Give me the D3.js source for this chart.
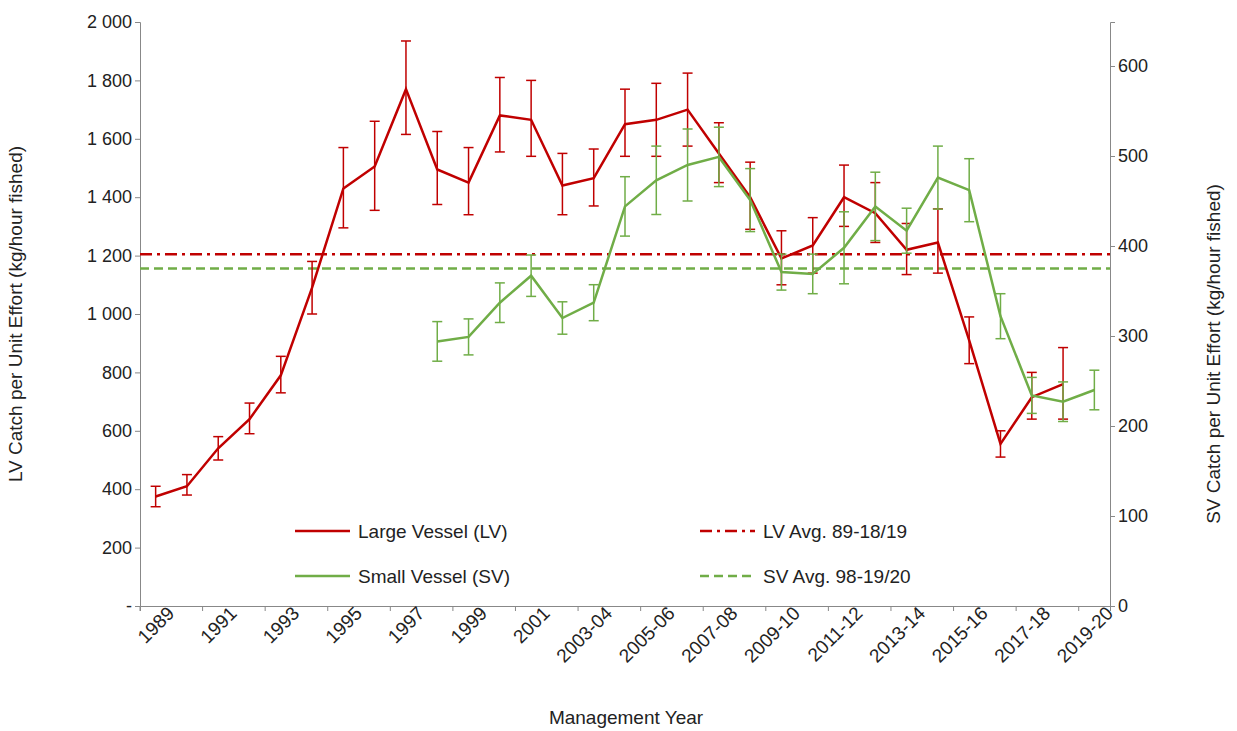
<!DOCTYPE html>
<html><head><meta charset="utf-8">
<script src="https://cdn.jsdelivr.net/npm/d3@7"></script>
<style>body{margin:0;background:#fff}text{font-family:"Liberation Sans",Arial,sans-serif}</style>
</head><body>
<svg id="chart" width="1237" height="731"></svg>
<script>
const categories = [];
for (let y = 1989; y <= 2001; y++) categories.push(String(y));
for (let y = 2002; y <= 2019; y++) categories.push(y + "-" + String(y + 1).slice(2));

const lvValues = [375,410,540,640,790,1090,1430,1505,1770,1495,1450,1680,1665,1440,1465,1650,1665,1700,1550,1400,1190,1235,1400,1345,1220,1245,910,555,715,760];
const lvLow  = [340,380,500,590,730,1000,1295,1355,1615,1375,1340,1555,1540,1340,1370,1540,1540,1575,1450,1290,1100,1140,1300,1245,1135,1140,830,510,640,640];
const lvHigh = [410,450,580,695,855,1180,1570,1660,1935,1625,1570,1810,1800,1550,1565,1770,1790,1825,1655,1520,1285,1330,1510,1450,1310,1360,990,600,800,885];
const svStart = 9;
const svValues = [294,299,337,367,320,337,444,473,490,499,451,371,369,398,444,417,476,462,322,234,227,240];
const svErr = [22,20,22,23,18,20,33,38,40,33,35,20,22,40,38,25,35,35,25,20,22,22];
const lvAvg = 1205, svAvg = 375;
const lvTicks = [0,200,400,600,800,1000,1200,1400,1600,1800,2000];
const svTicks = [0,100,200,300,400,500,600];

const red = "#C00000", green = "#70AD47";
const svg = d3.select("#chart");
const m = {left: 140, right: 1110, top: 22, bottom: 606};

const x = d3.scaleBand().domain(categories).range([m.left, m.right]);
const xc = d => x(d) + x.bandwidth() / 2;
const yL = d3.scaleLinear().domain([0, 2000]).range([m.bottom, m.top]);
const yR = d3.scaleLinear().domain([0, 2000 * 0.292 / 0.9]).range([m.bottom, m.top]);

const fmt = v => v === 0 ? "-" : d3.format(",")(v).replace(",", " ");

const gl = svg.append("g").attr("transform", `translate(${m.left},0)`)
  .call(d3.axisLeft(yL).tickValues(lvTicks).tickFormat(fmt).tickSize(5));
const gr = svg.append("g").attr("transform", `translate(${m.right},0)`)
  .call(d3.axisRight(yR).tickValues(svTicks).tickSize(5));
const gx = svg.append("g").attr("transform", `translate(0,${m.bottom})`)
  .call(d3.axisBottom(x).tickValues(categories.filter((c, i) => i % 2 === 0)).tickSize(5));
[gl, gr, gx].forEach(g => {
  g.selectAll("path,line").attr("stroke", "#888");
  g.selectAll("text").attr("font-size", 18).attr("fill", "#222");
});
gx.selectAll("line").attr("transform", `translate(${-x.bandwidth()/2},0)`);
gx.selectAll("text").attr("font-size", 19).attr("text-anchor", "end").attr("dx", "8").attr("dy", "12")
  .attr("transform", "rotate(-45)");

svg.append("text").attr("transform", `translate(22,${(m.top+m.bottom)/2}) rotate(-90)`)
  .attr("text-anchor", "middle").attr("font-size", 19).attr("fill", "#222")
  .text("LV Catch per Unit Effort (kg/hour fished)");
svg.append("text").attr("transform", `translate(1220,${(m.top+m.bottom)/2+40}) rotate(-90)`)
  .attr("text-anchor", "middle").attr("font-size", 19).attr("fill", "#222")
  .text("SV Catch per Unit Effort (kg/hour fished)");
svg.append("text").attr("x", 626).attr("y", 724).attr("text-anchor", "middle")
  .attr("font-size", 19).attr("fill", "#222").text("Management Year");

// averages
svg.append("line").attr("x1", m.left).attr("x2", m.right).attr("y1", yL(lvAvg)).attr("y2", yL(lvAvg))
  .attr("stroke", red).attr("stroke-width", 2.5).attr("stroke-dasharray", "12,5,3,5");
svg.append("line").attr("x1", m.left).attr("x2", m.right).attr("y1", yR(svAvg)).attr("y2", yR(svAvg))
  .attr("stroke", green).attr("stroke-width", 2.5).attr("stroke-dasharray", "9,5");

function errBars(idx, lo, hi, y, color) {
  const g = svg.append("g").attr("stroke", color).attr("stroke-width", 1.5);
  idx.forEach((c, i) => {
    const cx = xc(c);
    g.append("line").attr("x1", cx).attr("x2", cx).attr("y1", y(lo[i])).attr("y2", y(hi[i]));
    g.append("line").attr("x1", cx-5).attr("x2", cx+5).attr("y1", y(lo[i])).attr("y2", y(lo[i]));
    g.append("line").attr("x1", cx-5).attr("x2", cx+5).attr("y1", y(hi[i])).attr("y2", y(hi[i]));
  });
}

const lvCats = categories.slice(0, lvValues.length);
errBars(lvCats, lvLow, lvHigh, yL, red);
svg.append("path").attr("fill", "none").attr("stroke", red).attr("stroke-width", 2.5)
  .attr("d", d3.line().x((d, i) => xc(lvCats[i])).y(d => yL(d))(lvValues));

const svCats = categories.slice(svStart, svStart + svValues.length);
errBars(svCats, svValues.map((v, i) => v - svErr[i]), svValues.map((v, i) => v + svErr[i]), yR, green);
svg.append("path").attr("fill", "none").attr("stroke", green).attr("stroke-width", 2.5)
  .attr("d", d3.line().x((d, i) => xc(svCats[i])).y(d => yR(d))(svValues));

// legend
const legend = [
  {x: 295, y: 531, color: red, dash: null, label: "Large Vessel (LV)"},
  {x: 700, y: 531, color: red, dash: "12,5,3,5", label: "LV Avg. 89-18/19"},
  {x: 295, y: 576, color: green, dash: null, label: "Small Vessel (SV)"},
  {x: 700, y: 576, color: green, dash: "9,5", label: "SV Avg. 98-19/20"}
];
legend.forEach(l => {
  svg.append("line").attr("x1", l.x).attr("x2", l.x + 55).attr("y1", l.y).attr("y2", l.y)
    .attr("stroke", l.color).attr("stroke-width", 2.5).attr("stroke-dasharray", l.dash);
  svg.append("text").attr("x", l.x + 63).attr("y", l.y + 7).attr("font-size", 19)
    .attr("fill", "#222").text(l.label);
});
</script>
</body></html>
